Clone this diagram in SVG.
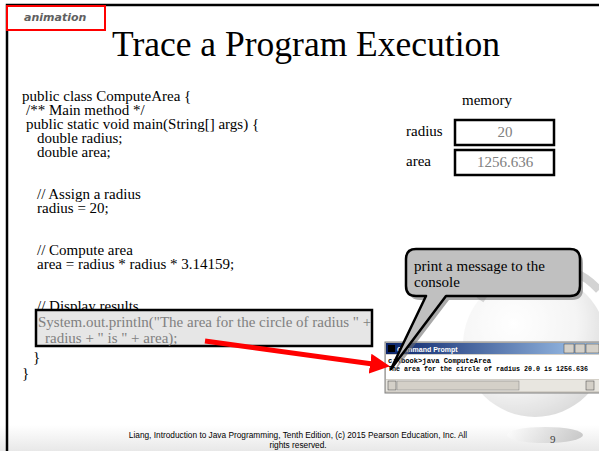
<svg xmlns="http://www.w3.org/2000/svg" width="599" height="451" viewBox="0 0 599 451">
<defs>
<style>
.code{font-family:"Liberation Serif",serif;font-size:15px;fill:#000}
.gray{fill:#808080}
.mono{font-family:"Liberation Mono",monospace;font-size:8px;font-weight:bold;fill:#000}
.foot{font-family:"Liberation Sans",sans-serif;font-size:8.3px;fill:#000}
.membox{fill:#fff;stroke:#000;stroke-width:2.5}
</style>
<linearGradient id="bottomGrad" x1="0" y1="0" x2="0" y2="1">
<stop offset="0" stop-color="#ffffff"/>
<stop offset="1" stop-color="#e8e8e8"/>
</linearGradient>
<radialGradient id="globeGrad" cx="0.35" cy="0.35" r="0.75">
<stop offset="0" stop-color="#ffffff"/>
<stop offset="0.6" stop-color="#ececec"/>
<stop offset="1" stop-color="#b8b8b8"/>
</radialGradient>
<linearGradient id="titleGrad" x1="0" y1="0" x2="1" y2="0">
<stop offset="0" stop-color="#0a246a"/>
<stop offset="1" stop-color="#a6caf0"/>
</linearGradient>
<linearGradient id="pageGrad" x1="0" y1="0" x2="1" y2="0">
<stop offset="0" stop-color="#ffffff"/>
<stop offset="1" stop-color="#909090"/>
</linearGradient>
<marker id="redHead" markerWidth="4" markerHeight="4" refX="2" refY="2" orient="auto" markerUnits="strokeWidth">
<path d="M0,0 L4,2 L0,4 Z" fill="#ff0000"/>
</marker>
</defs>

<rect x="0" y="0" width="599" height="451" fill="#ffffff"/>
<rect x="0" y="425" width="599" height="26" fill="url(#bottomGrad)"/>

<!-- decorative globe -->
<g id="globe" opacity="0.55">
<circle cx="535" cy="345" r="72" fill="url(#globeGrad)"/>
<path d="M480,300 A75,75 0 0 1 599,290" fill="none" stroke="#b0b0b0" stroke-width="8"/>
<ellipse cx="545" cy="435" rx="38" ry="8" fill="url(#pageGrad)" opacity="0.8"/>
</g>

<!-- slide frame -->
<path d="M7,451 V5 H599" fill="none" stroke="#000" stroke-width="2.5"/>

<g id="animation-tag">
<rect x="7" y="6" width="98" height="24" fill="#fff" stroke="#ff0000" stroke-width="2"/>
<text x="24" y="21" font-family="'DejaVu Sans',sans-serif" font-size="11" font-weight="bold" font-style="italic" fill="#606060">animation</text>
</g>

<g id="title">
<text x="306" y="56" text-anchor="middle" font-family="'Liberation Serif',serif" font-size="35.5" fill="#000">Trace a Program Execution</text>
</g>

<g id="code">
<text class="code" x="22" y="101">public class ComputeArea {</text>
<text class="code" x="26" y="115">/** Main method */</text>
<text class="code" x="26" y="129">public static void main(String[] args) {</text>
<text class="code" x="37" y="143">double radius;</text>
<text class="code" x="37" y="157">double area;</text>
<text class="code" x="37" y="199">// Assign a radius</text>
<text class="code" x="37" y="213">radius = 20;</text>
<text class="code" x="37" y="255">// Compute area</text>
<text class="code" x="37" y="269">area = radius * radius * 3.14159;</text>
<text class="code" x="37" y="311">// Display results</text>
</g>

<g id="highlight">
<rect x="36" y="310" width="336" height="36" fill="#e6e6e6" stroke="#000" stroke-width="2.5"/>
<text class="code gray" x="38" y="327">System.out.println("The area for the circle of radius " +</text>
<text class="code gray" x="45" y="343">radius + " is " + area);</text>
</g>

<g id="braces">
<text class="code" x="33" y="362">}</text>
<text class="code" x="22" y="378">}</text>
</g>

<g id="memory">
<text class="code" x="487" y="105" text-anchor="middle">memory</text>
<text class="code" x="406" y="136">radius</text>
<rect class="membox" x="455" y="120" width="99" height="25"/>
<text class="code gray" x="505" y="137" text-anchor="middle">20</text>
<text class="code" x="406" y="166">area</text>
<rect class="membox" x="455" y="150" width="99" height="25"/>
<text class="code gray" x="505" y="167" text-anchor="middle">1256.636</text>
</g>

<g id="console">
<rect x="385" y="342" width="216" height="51" fill="#d4d0c8" stroke="#808080" stroke-width="1"/>
<rect x="386" y="343" width="214" height="11" fill="url(#titleGrad)"/>
<rect x="388" y="345" width="7" height="7" fill="#000"/>
<text x="397" y="352" font-family="'Liberation Sans',sans-serif" font-size="7" font-weight="bold" fill="#fff">Command Prompt</text>
<rect x="564" y="344" width="10" height="9" fill="#d4d0c8" stroke="#404040" stroke-width="0.5"/>
<rect x="575" y="344" width="10" height="9" fill="#d4d0c8" stroke="#404040" stroke-width="0.5"/>
<rect x="586" y="344" width="13" height="9" fill="#d4d0c8" stroke="#404040" stroke-width="0.5"/>
<rect x="386" y="355" width="213" height="24" fill="#ffffff"/>
<text class="mono" x="388" y="363" textLength="103" lengthAdjust="spacingAndGlyphs">c:\book&gt;java ComputeArea</text>
<text class="mono" x="388" y="371" textLength="200" lengthAdjust="spacingAndGlyphs">The area for the circle of radius 20.0 is 1256.636</text>
<rect x="386" y="380" width="213" height="11" fill="#e8e6e0"/>
<rect x="388" y="381" width="8" height="9" fill="#d4d0c8" stroke="#404040" stroke-width="0.5"/>
<rect x="397" y="381" width="122" height="9" fill="#d4d0c8" stroke="#808080" stroke-width="0.5"/>
<rect x="586" y="381" width="8" height="9" fill="#d4d0c8" stroke="#404040" stroke-width="0.5"/>
</g>

<g id="connectors">
<line x1="205" y1="341" x2="380" y2="365" stroke="#ff0000" stroke-width="5" marker-end="url(#redHead)"/>
</g>

<g id="callout">
<path d="M420,252 H572 Q583,252 583,263 V289 Q583,300 572,300 H449 L394,372 L429,300 H420 Q409,300 409,289 V263 Q409,252 420,252 Z" fill="#707070" opacity="0.6"/>
<path d="M416,249 H570 Q580,249 580,259 V286 Q580,296 570,296 H446 L391,369 L426,296 H416 Q406,296 406,286 V259 Q406,249 416,249 Z" fill="#c0c0c0" stroke="#000" stroke-width="2.5" stroke-linejoin="round"/>
<text class="code" x="414" y="271">print a message to the</text>
<text class="code" x="414" y="287">console</text>
</g>

<g id="footer">
<text class="foot" x="298" y="438" text-anchor="middle">Liang, Introduction to Java Programming, Tenth Edition, (c) 2015 Pearson Education, Inc. All</text>
<text class="foot" x="298" y="448" text-anchor="middle">rights reserved.</text>
<text x="550" y="443" font-family="'Liberation Serif',serif" font-size="11" fill="#404040">9</text>
</g>
</svg>
